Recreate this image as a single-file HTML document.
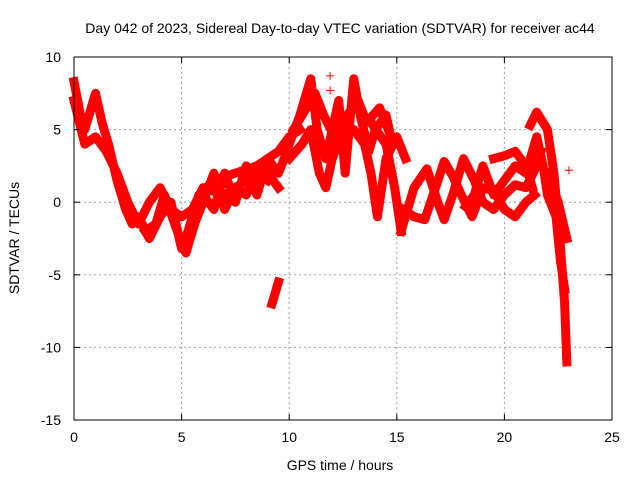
<!DOCTYPE html>
<html><head><meta charset="utf-8"><style>body{margin:0;background:#fff}svg{display:block;font-family:"Liberation Sans",sans-serif}</style></head>
<body>
<svg id="chart" width="640" height="480" viewBox="0 0 640 480">
<rect width="640" height="480" fill="#fff"/>
<g id="grid"></g>
<g id="series"></g>
<rect x="74" y="57" width="538" height="363" fill="none" stroke="#000" stroke-width="1"/>
<g id="ticks"></g>
<text x="340" y="33" font-size="14" text-anchor="middle">Day 042 of 2023, Sidereal Day-to-day VTEC variation (SDTVAR) for receiver ac44</text>
<text x="340" y="470" font-size="14" text-anchor="middle">GPS time / hours</text>
<text transform="translate(19,238) rotate(-90)" font-size="14" text-anchor="middle">SDTVAR / TECUs</text>
</svg>
<script>
const xTicks=[0,5,10,15,20,25];
const yTicks=[10,5,0,-5,-10,-15];
const trackA=[[0,8.3],[0.3,6],[0.5,5],[0.8,6.5],[1,7.5],[1.3,5.5],[1.6,4],[2,1.5],[2.4,-0.5],[2.7,-1.5],[3,-1],[3.5,-2.5],[4,-1],[4.5,0],[5,-3.2],[5.3,-2],[5.8,0.5],[6.5,1.5],[7.5,2],[8.5,2.5],[9.5,3.5],[10,4.5],[10.5,5]];
const trackB=[[0,7],[0.5,4],[1,4.5],[1.5,3.5],[2,2],[2.5,0],[3,-1.5],[3.5,0],[4,1],[4.5,-0.5],[5,-1],[5.5,-0.5],[6,1],[7,0.5],[8,1.5],[9,2],[9.5,1]];
const trackC=[[3.3,-2],[3.8,-1.5],[4.2,0.5],[4.8,-2],[5.2,-3.5],[5.6,-1.5],[6,0],[6.5,2],[7,-0.5],[7.5,1],[8,0.5],[8.5,2],[9,1.5]];
const trackH=[[5.5,-2],[6,0.5],[6.5,-0.5],[7,2],[7.5,0],[8,2.5],[8.5,0.5],[9,3],[9.5,2],[9.9,3.5]];
const trackIso=[[9.2,-7],[9.5,-5.5]];
const trackG1=[[10,4],[10.5,6],[11,8.5],[11.3,5],[11.7,3],[12,5],[12.3,7],[12.6,2],[13,8.5],[13.3,6],[13.7,3.5],[14,5],[14.5,6],[14.8,4]];
const trackG2=[[10,3],[10.6,4],[11,5],[11.4,2],[11.7,1],[12,3],[12.5,5],[13,5],[13.5,4],[13.8,2],[14.1,-1],[14.5,3],[15,4.5],[15.4,3]];
const trackG3=[[13.8,5.5],[14.5,4],[14.9,1],[15.2,-2]];
const trackG4=[[10.2,5],[10.8,6.5],[11.2,7.5],[11.6,6],[12.1,4.5],[12.7,6],[13.2,7],[13.6,5.5],[14.2,6.5],[14.6,5]];
const trackD1=[[15.2,-2],[15.8,1],[16.4,2.3],[16.9,0],[17.2,-1.2],[17.6,0.5],[18.1,3],[18.6,1.5],[19,0],[19.5,-0.5],[20,0.5],[20.5,1.2],[21,1],[21.5,2.5],[21.7,3.5]];
const trackD2=[[15.3,-0.5],[15.8,-1],[16.3,-1.2],[16.8,1],[17.2,2.8],[17.6,1.8],[18,0.5],[18.5,-1],[19,1],[19.5,0.8],[20,-0.5],[20.5,-1],[21,0],[21.4,0.5]];
const trackD3=[[18.2,-0.3],[18.6,0.5],[19,2.5],[19.5,0.5],[20,1.5],[20.5,2.5],[21,2],[21.5,4.5],[21.8,2.5],[22,0.5],[22.4,-1],[22.6,-4],[22.8,-6]];
const trackD4=[[19.5,3],[20,3.2],[20.5,3.5],[21,2.5],[21.3,1]];
const trackE=[[21.2,5.3],[21.5,6.2],[22,5],[22.3,2],[22.6,-3],[22.8,-7],[22.9,-11]];
const trackF=[[22,2],[22.5,0],[22.9,-2.5]];
const singles=[[23,2.2],[11.9,8.7],[11.9,7.7]];
const tracks=[trackA,trackB,trackC,trackH,trackIso,trackG1,trackG2,trackG3,trackG4,trackD1,trackD2,trackD3,trackD4,trackE,trackF];

const X=v=>74+v*538/25;
const Y=v=>57+(10-v)*363/25;
const NS='http://www.w3.org/2000/svg';
const grid=document.getElementById('grid'),ticks=document.getElementById('ticks'),ser=document.getElementById('series');
function mk(tag,attrs,parent){const e=document.createElementNS(NS,tag);for(const k in attrs)e.setAttribute(k,attrs[k]);parent.appendChild(e);return e;}
xTicks.forEach(t=>{
  const x=X(t);
  if(t>0&&t<25){const g=mk('line',{x1:x,x2:x,y1:57,y2:420,stroke:'#a0a0a0','stroke-dasharray':'2,3'},grid);
  
  }
  const l=mk('line',{x1:x,x2:x,y1:420,y2:414,stroke:'#000'},ticks);
  
  
  const l2=mk('line',{x1:x,x2:x,y1:57,y2:63,stroke:'#000'},ticks);
  
  
  const tx=mk('text',{x:x,y:442,'font-size':14,'text-anchor':'middle'},ticks);tx.textContent=t;
  
  
});
yTicks.forEach(t=>{
  const y=Y(t);
  if(t<10&&t>-15){const g=mk('line',{x1:74,x2:612,y1:y,y2:y,stroke:'#a0a0a0','stroke-dasharray':'2,3'},grid);
  
  }
  const l=mk('line',{x1:74,x2:80,y1:y,y2:y,stroke:'#000'},ticks);
  
  
  const l2=mk('line',{x1:606,x2:612,y1:y,y2:y,stroke:'#000'},ticks);
  
  
  const tx=mk('text',{x:61,y:y+5,'font-size':14,'text-anchor':'end'},ticks);tx.textContent=t;
  
  
});
tracks.forEach(tr=>{
  const p=mk('polyline',{points:tr.map(d=>X(d[0])+','+Y(d[1])).join(' '),fill:'none',stroke:'#ff0000','stroke-width':9,'stroke-linejoin':'round','stroke-linecap':'square'},ser);
  
  
});
singles.forEach(d=>{
  const x=X(d[0]),y=Y(d[1]);
  const p=mk('path',{d:`M${x-4},${y}H${x+4}M${x},${y-4}V${y+4}`,stroke:'#ff0000','stroke-width':1},ser);
  
  
});
</script>
</body></html>
